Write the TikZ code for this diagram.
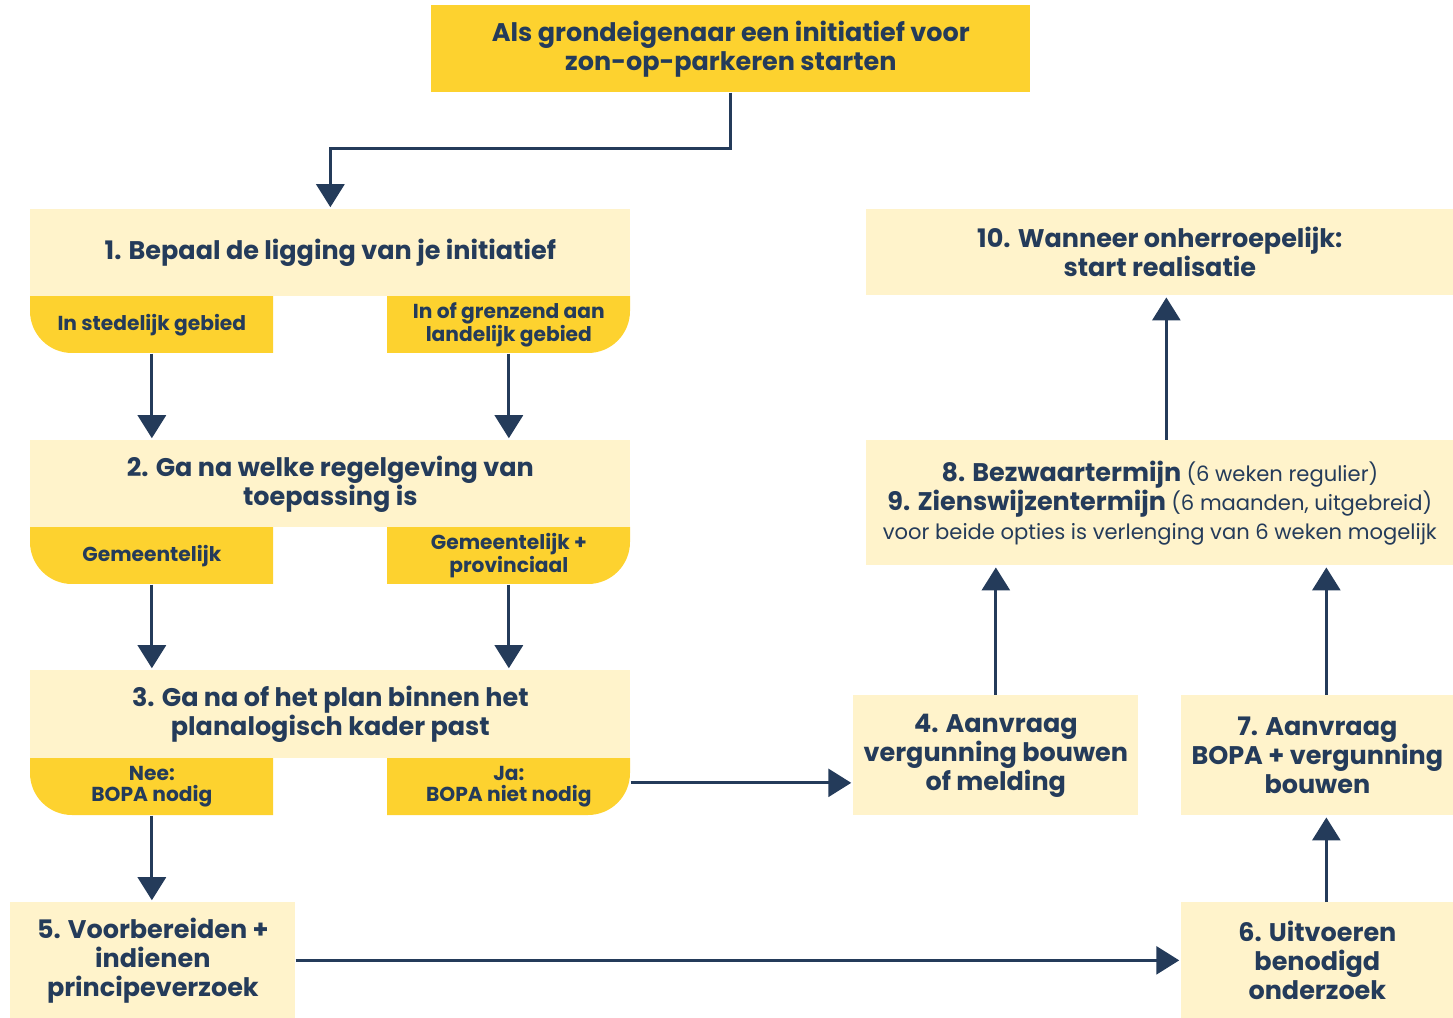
\documentclass[tikz,border=0pt]{standalone}
\usepackage{fontspec}
\setmainfont{Poppins}
\usetikzlibrary{arrows.meta}
\definecolor{goud}{HTML}{FDD22F}
\definecolor{licht}{HTML}{FFF3CB}
\definecolor{navy}{HTML}{243B5A}
\tikzset{
  kop/.style={fill=goud, text=navy, font=\bfseries\fontsize{14.5}{16.5}\selectfont,
    align=center, anchor=north west, inner sep=0pt},
  stap/.style={fill=licht, text=navy, font=\bfseries\fontsize{14.5}{16.5}\selectfont,
    align=center, anchor=north west, inner sep=0pt},
  tabtekst/.style={text=navy, font=\bfseries\fontsize{11.5}{12}\selectfont,
    align=center, anchor=north west, inner sep=0pt,
    minimum width=4.86cm, minimum height=1.14cm},
  pijl/.style={draw=navy, line width=1.7pt, shorten >=1pt,
    -{Triangle[width=0.56cm,length=0.46cm]}},
}
\newcommand{\klein}{\mdseries\fontsize{12}{16.5}\selectfont}
\begin{document}
\begin{tikzpicture}
  \useasboundingbox (0,0) rectangle (29.06,-20.36);
  % tabs onder stap 1-3
  \foreach \y in {5.92,10.54,15.16}{
    \fill[goud] (0.60,-\y) -- (5.46,-\y) -- (5.46,-\y-1.14) -- (1.44,-\y-1.14)
      arc[start angle=270, end angle=180, radius=0.84] -- cycle;
    \fill[goud] (7.74,-\y) -- (12.60,-\y) -- (12.60,-\y-0.30)
      arc[start angle=0, end angle=-90, radius=0.84] -- (7.74,-\y-1.14) -- cycle;
  }
  % blokken
  \node[kop, minimum width=11.98cm, minimum height=1.74cm] (start) at (8.62,-0.10)
    {Als grondeigenaar een initiatief voor\\zon-op-parkeren starten};
  \node[stap, minimum width=12cm, minimum height=1.74cm] (stap1) at (0.60,-4.18)
    {1. Bepaal de ligging van je initiatief};
  \node[tabtekst] (t1l) at (0.60,-5.92) {In stedelijk gebied};
  \node[tabtekst] (t1r) at (7.74,-5.92) {In of grenzend aan\\landelijk gebied};
  \node[stap, minimum width=12cm, minimum height=1.74cm] (stap2) at (0.60,-8.80)
    {2. Ga na welke regelgeving van\\toepassing is};
  \node[tabtekst] (t2l) at (0.60,-10.54) {Gemeentelijk};
  \node[tabtekst] (t2r) at (7.74,-10.54) {Gemeentelijk +\\provinciaal};
  \node[stap, minimum width=12cm, minimum height=1.76cm] (stap3) at (0.60,-13.40)
    {3. Ga na of het plan binnen het\\planalogisch kader past};
  \node[tabtekst] (t3l) at (0.60,-15.16) {Nee:\\BOPA nodig};
  \node[tabtekst] (t3r) at (7.74,-15.16) {Ja:\\BOPA niet nodig};
  \node[stap, minimum width=5.70cm, minimum height=2.40cm] (stap4) at (17.06,-13.90)
    {4. Aanvraag\\vergunning bouwen\\of melding};
  \node[stap, minimum width=5.70cm, minimum height=2.32cm] (stap5) at (0.20,-18.04)
    {5. Voorbereiden +\\indienen\\principeverzoek};
  \node[stap, minimum width=5.44cm, minimum height=2.32cm] (stap6) at (23.62,-18.04)
    {6. Uitvoeren\\benodigd\\onderzoek};
  \node[stap, minimum width=5.44cm, minimum height=2.40cm] (stap7) at (23.62,-13.90)
    {7. Aanvraag\\BOPA + vergunning\\bouwen};
  \node[stap, minimum width=11.74cm, minimum height=2.50cm] (stap89) at (17.32,-8.80)
    {8. Bezwaartermijn {\klein (6 weken regulier)}\\
     9. Zienswijzentermijn {\klein (6 maanden, uitgebreid)}\\
     {\klein voor beide opties is verlenging van 6 weken mogelijk}};
  \node[stap, minimum width=11.74cm, minimum height=1.72cm] (stap10) at (17.32,-4.18)
    {10. Wanneer onherroepelijk:\\start realisatie};
  % pijlen
  \draw[pijl] (start.south) -- ++(0,-1.12) -| (stap1.north);
  \draw[pijl] (t1l.south) -- (t1l.south |- stap2.north);
  \draw[pijl] (t1r.south) -- (t1r.south |- stap2.north);
  \draw[pijl] (t2l.south) -- (t2l.south |- stap3.north);
  \draw[pijl] (t2r.south) -- (t2r.south |- stap3.north);
  \draw[pijl] (t3l.south) -- (t3l.south |- stap5.north);
  \draw[pijl] ([yshift=0.08cm]t3r.east) -- ([yshift=0.08cm]t3r.east -| stap4.west);
  \draw[pijl] (stap5.east) -- (stap5.east -| stap6.west);
  \draw[pijl] ([xshift=0.18cm]stap6.north) -- ([xshift=0.18cm]stap7.south);
  \draw[pijl] ([xshift=0.18cm]stap7.north) -- ([xshift=0.18cm]stap7.north |- stap89.south);
  \draw[pijl] (stap4.north) -- (stap4.north |- stap89.south);
  \draw[pijl] ([xshift=0.13cm]stap89.north) -- ([xshift=0.13cm]stap89.north |- stap10.south);
\end{tikzpicture}
\end{document}
